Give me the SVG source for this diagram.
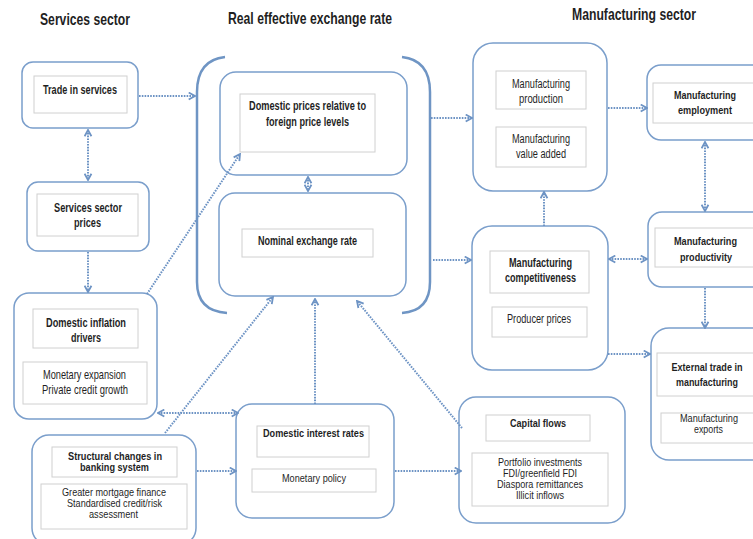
<svg xmlns="http://www.w3.org/2000/svg" width="753" height="539" viewBox="0 0 753 539">
<style>
.ob{fill:#fff;stroke:#7a9ecb;stroke-width:1.5}
.ib{fill:#fff;stroke:#d0d0d0;stroke-width:1}
.t{font-family:"Liberation Sans",Arial,sans-serif;fill:#1f1f1f}
.b{font-weight:bold}
.m{text-anchor:middle}
.h{font-family:"Liberation Sans",Arial,sans-serif;font-size:16.5px;font-weight:bold;fill:#1f1f1f}
.s13{font-size:13.5px}.s12{font-size:13px}.s11{font-size:12.5px}.s10{font-size:10.5px}.r{font-size:11.5px}.q{font-size:10.5px}
.c{fill:none;stroke:#6d93c4;stroke-width:2;stroke-dasharray:1.6 1.2}
.br{fill:none;stroke:#6f95c4;stroke-width:2.5}
</style>
<defs>
<marker id="ah" viewBox="0 0 10 10" refX="9" refY="5" markerWidth="9" markerHeight="9" markerUnits="userSpaceOnUse" orient="auto-start-reverse">
<path d="M2 1.2 L9 5 L2 8.8" fill="none" stroke="#6d93c4" stroke-width="2"/>
</marker>
</defs>
<rect width="753" height="539" fill="#fff"/>

<g id="titles">
<text class="h" x="40" y="25" textLength="90" lengthAdjust="spacingAndGlyphs">Services sector</text>
<text class="h" x="228" y="24" textLength="164" lengthAdjust="spacingAndGlyphs">Real effective exchange rate</text>
<text class="h" x="572" y="20" textLength="124" lengthAdjust="spacingAndGlyphs">Manufacturing sector</text>
</g>

<g id="reer-bracket">
<path class="br" d="M225 57 Q197 60 197 92 L197 282 Q197 311 227 313"/>
<path class="br" d="M402 57 Q430 60 430 92 L430 282 Q430 311 402 313"/>
</g>

<g id="trade-in-services">
<rect class="ob" x="22" y="62" width="116" height="66" rx="11"/>
<rect class="ib" x="34" y="76" width="93" height="37"/>
<text class="t b s13" x="43" y="94" textLength="74" lengthAdjust="spacingAndGlyphs">Trade in services</text>
</g>

<g id="services-sector-prices">
<rect class="ob" x="27" y="182" width="122" height="69" rx="11"/>
<rect class="ib" x="37" y="194" width="101" height="42"/>
<text class="t b s13" x="54" y="212" textLength="68" lengthAdjust="spacingAndGlyphs">Services sector</text>
<text class="t b s13" x="74" y="227" textLength="27" lengthAdjust="spacingAndGlyphs">prices</text>
</g>

<g id="domestic-inflation-drivers">
<rect class="ob" x="14" y="293" width="143" height="126" rx="15"/>
<rect class="ib" x="33" y="309" width="105" height="39"/>
<text class="t b s13" x="46" y="327" textLength="80" lengthAdjust="spacingAndGlyphs">Domestic inflation</text>
<text class="t b s13" x="71" y="342" textLength="30" lengthAdjust="spacingAndGlyphs">drivers</text>
<rect class="ib" x="23" y="362" width="124" height="42"/>
<text class="t s12" x="43" y="379" textLength="83" lengthAdjust="spacingAndGlyphs">Monetary expansion</text>
<text class="t s12" x="42" y="394" textLength="86" lengthAdjust="spacingAndGlyphs">Private credit  growth</text>
</g>

<g id="domestic-prices">
<rect class="ob" x="220" y="72" width="187" height="103" rx="16"/>
<rect class="ib" x="240" y="94" width="135" height="58"/>
<text class="t b s13" x="249" y="110" textLength="117" lengthAdjust="spacingAndGlyphs">Domestic prices relative to</text>
<text class="t b s13" x="266" y="126" textLength="83" lengthAdjust="spacingAndGlyphs">foreign price levels</text>
</g>

<g id="nominal-exchange-rate">
<rect class="ob" x="219" y="193" width="187" height="103" rx="16"/>
<rect class="ib" x="242" y="229" width="131" height="28"/>
<text class="t b s13" x="258" y="245" textLength="99" lengthAdjust="spacingAndGlyphs">Nominal exchange rate</text>
</g>

<g id="manufacturing-production">
<rect class="ob" x="473" y="43" width="134" height="148" rx="20"/>
<rect class="ib" x="496" y="71" width="90" height="38"/>
<text class="t s11" x="512" y="88" textLength="58" lengthAdjust="spacingAndGlyphs">Manufacturing</text>
<text class="t s11" x="519" y="103" textLength="44" lengthAdjust="spacingAndGlyphs">production</text>
<rect class="ib" x="496" y="127" width="90" height="40"/>
<text class="t s11" x="512" y="143" textLength="58" lengthAdjust="spacingAndGlyphs">Manufacturing</text>
<text class="t s11" x="516" y="158" textLength="50" lengthAdjust="spacingAndGlyphs">value added</text>
</g>

<g id="manufacturing-employment">
<rect class="ob" x="647" y="65" width="130" height="75" rx="14"/>
<rect class="ib" x="653" y="83" width="110" height="40"/>
<text class="t b r m" x="705" y="99" textLength="62" lengthAdjust="spacingAndGlyphs">Manufacturing</text>
<text class="t b r m" x="705" y="114" textLength="54" lengthAdjust="spacingAndGlyphs">employment</text>
</g>

<g id="manufacturing-productivity">
<rect class="ob" x="648" y="212" width="130" height="75" rx="14"/>
<rect class="ib" x="655" y="228" width="110" height="39"/>
<text class="t b r m" x="705.5" y="245" textLength="63" lengthAdjust="spacingAndGlyphs">Manufacturing</text>
<text class="t b r m" x="706" y="261" textLength="52" lengthAdjust="spacingAndGlyphs">productivity</text>
</g>

<g id="manufacturing-competitiveness">
<rect class="ob" x="472" y="226" width="136" height="144" rx="20"/>
<rect class="ib" x="490" y="251" width="99" height="42"/>
<text class="t b s12" x="509" y="267" textLength="63" lengthAdjust="spacingAndGlyphs">Manufacturing</text>
<text class="t b s12" x="505" y="282" textLength="71" lengthAdjust="spacingAndGlyphs">competitiveness</text>
<rect class="ib" x="492" y="307" width="95" height="30"/>
<text class="t s11" x="507" y="323" textLength="64" lengthAdjust="spacingAndGlyphs">Producer prices</text>
</g>

<g id="external-trade">
<rect class="ob" x="651" y="328" width="130" height="132" rx="18"/>
<rect class="ib" x="657" y="353" width="110" height="43"/>
<text class="t b q m" x="707" y="371" textLength="71" lengthAdjust="spacingAndGlyphs">External trade in</text>
<text class="t b q m" x="707" y="386" textLength="62" lengthAdjust="spacingAndGlyphs">manufacturing</text>
<rect class="ib" x="661" y="413" width="100" height="30"/>
<text class="t s10 m" x="709" y="422" textLength="58" lengthAdjust="spacingAndGlyphs">Manufacturing</text>
<text class="t s10 m" x="708.5" y="433" textLength="29" lengthAdjust="spacingAndGlyphs">exports</text>
</g>

<g id="capital-flows">
<rect class="ob" x="459" y="397" width="166" height="126" rx="17"/>
<rect class="ib" x="486" y="415" width="104" height="26"/>
<text class="t b s10" x="510" y="427" textLength="56" lengthAdjust="spacingAndGlyphs">Capital flows</text>
<rect class="ib" x="472" y="453" width="136" height="53"/>
<text class="t s10" x="498" y="466" textLength="84" lengthAdjust="spacingAndGlyphs">Portfolio investments</text>
<text class="t s10" x="503" y="477" textLength="74" lengthAdjust="spacingAndGlyphs">FDI/greenfield FDI</text>
<text class="t s10" x="497" y="488" textLength="86" lengthAdjust="spacingAndGlyphs">Diaspora remittances</text>
<text class="t s10" x="516" y="499" textLength="48" lengthAdjust="spacingAndGlyphs">Illicit inflows</text>
</g>

<g id="domestic-interest-rates">
<rect class="ob" x="236" y="404" width="158" height="114" rx="16"/>
<rect class="ib" x="257" y="426" width="112" height="31"/>
<text class="t b s10" x="263" y="437" textLength="101" lengthAdjust="spacingAndGlyphs">Domestic interest rates</text>
<rect class="ib" x="252" y="469" width="124" height="23"/>
<text class="t s10" x="282" y="482" textLength="64" lengthAdjust="spacingAndGlyphs">Monetary policy</text>
</g>

<g id="structural-changes">
<rect class="ob" x="32" y="435" width="164" height="110" rx="17"/>
<rect class="ib" x="52" y="447" width="125" height="30"/>
<text class="t b s10" x="68" y="460" textLength="94" lengthAdjust="spacingAndGlyphs">Structural changes in</text>
<text class="t b s10" x="80" y="471" textLength="69" lengthAdjust="spacingAndGlyphs">banking system</text>
<rect class="ib" x="41" y="484" width="146" height="45"/>
<text class="t s10" x="62" y="496" textLength="104" lengthAdjust="spacingAndGlyphs">Greater mortgage finance</text>
<text class="t s10" x="67" y="507" textLength="95" lengthAdjust="spacingAndGlyphs">Standardised credit/risk</text>
<text class="t s10" x="89" y="518" textLength="49" lengthAdjust="spacingAndGlyphs">assessment</text>
</g>

<g id="connectors">
<path class="c" d="M139 96 H195" marker-end="url(#ah)"/>
<path class="c" d="M88 130 V180" marker-start="url(#ah)" marker-end="url(#ah)"/>
<path class="c" d="M88 252 V292" marker-end="url(#ah)"/>
<path class="c" d="M147 294 L240 154" marker-end="url(#ah)"/>
<path class="c" d="M308 177 V191" marker-start="url(#ah)" marker-end="url(#ah)"/>
<path class="c" d="M431 118 H472" marker-end="url(#ah)"/>
<path class="c" d="M433 260 H471" marker-end="url(#ah)"/>
<path class="c" d="M608 108 H647" marker-end="url(#ah)"/>
<path class="c" d="M705 142 V211" marker-start="url(#ah)" marker-end="url(#ah)"/>
<path class="c" d="M544 226 V192" marker-end="url(#ah)"/>
<path class="c" d="M609 259 H647" marker-start="url(#ah)" marker-end="url(#ah)"/>
<path class="c" d="M705 288 V328" marker-end="url(#ah)"/>
<path class="c" d="M608 354 H650" marker-end="url(#ah)"/>
<path class="c" d="M462 428 L357 301" marker-end="url(#ah)"/>
<path class="c" d="M315 404 V299" marker-end="url(#ah)"/>
<path class="c" d="M165 433 L273 297" marker-end="url(#ah)"/>
<path class="c" d="M158 413 H238" marker-start="url(#ah)" marker-end="url(#ah)"/>
<path class="c" d="M197 471 H236" marker-end="url(#ah)"/>
<path class="c" d="M395 471 H461" marker-end="url(#ah)"/>
</g>
</svg>
